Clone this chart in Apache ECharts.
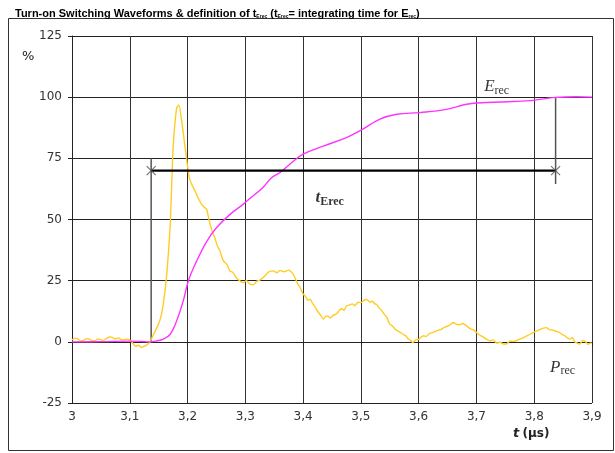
<!DOCTYPE html>
<html>
<head>
<meta charset="utf-8">
<script src="https://cdn.jsdelivr.net/npm/echarts@6/dist/echarts.min.js"></script>
<style>
  html, body { margin: 0; padding: 0; background: #fff; }
  #chart { width: 615px; height: 453px; }
</style>
</head>
<body>
<div id="chart"></div>
<script>
// time axis ticks (µs) and % ticks
const xTicks = [3, 3.1, 3.2, 3.3, 3.4, 3.5, 3.6, 3.7, 3.8, 3.9]
const yTicks = [-25, 0, 25, 50, 75, 100, 125]

// P_rec (yellow)
const pTime = [
  3.000, 3.005, 3.010, 3.015, 3.020, 3.025, 3.030, 3.035, 3.040, 3.045, 3.050, 3.055, 3.060, 3.065, 3.070, 3.075,
  3.080, 3.085, 3.090, 3.095, 3.100, 3.105, 3.110, 3.115, 3.120, 3.125, 3.130, 3.135, 3.140, 3.147, 3.153, 3.158,
  3.164, 3.170, 3.175, 3.181, 3.185, 3.190, 3.196, 3.203, 3.208, 3.213, 3.218, 3.224, 3.229, 3.233, 3.239, 3.243,
  3.247, 3.252, 3.256, 3.262, 3.268, 3.273, 3.278, 3.282, 3.286, 3.290, 3.296, 3.302, 3.308, 3.314, 3.320, 3.325,
  3.331, 3.336, 3.340, 3.348, 3.355, 3.360, 3.367, 3.375, 3.383, 3.390, 3.395, 3.400, 3.404, 3.408, 3.412, 3.417,
  3.421, 3.425, 3.430, 3.435, 3.439, 3.443, 3.448, 3.452, 3.456, 3.460, 3.464, 3.467, 3.471, 3.475, 3.480, 3.485,
  3.490, 3.495, 3.500, 3.504, 3.508, 3.512, 3.516, 3.520, 3.524, 3.527, 3.531, 3.535, 3.540, 3.545, 3.550, 3.555,
  3.560, 3.566, 3.573, 3.578, 3.582, 3.586, 3.590, 3.595, 3.600, 3.604, 3.608, 3.613, 3.618, 3.624, 3.631, 3.638,
  3.645, 3.652, 3.660, 3.665, 3.670, 3.676, 3.683, 3.690, 3.695, 3.700, 3.705, 3.710, 3.716, 3.723, 3.729, 3.735,
  3.741, 3.747, 3.752, 3.758, 3.765, 3.770, 3.775, 3.781, 3.787, 3.792, 3.798, 3.804, 3.810, 3.816, 3.821, 3.826,
  3.832, 3.838, 3.844, 3.849, 3.853, 3.858, 3.862, 3.866, 3.870, 3.875, 3.879, 3.884, 3.888, 3.893, 3.899
]
const pValue = [
  0.8, 1.5, 1.2, 0.4, 0.6, 1.3, 1.1, 0.5, 0.5, 1.2, 0.9, 0.6, 1.4, 2.0, 1.8, 1.2,
  1.6, 1.0, 0.8, 1.1, 0.7, -0.5, -1.8, -1.4, -2.3, -1.9, -1.2, 0.0, 2.5, 5.8, 9.5, 15.4,
  27.6, 48.0, 79.0, 95.5, 96.8, 90.0, 79.0, 67.0, 64.0, 61.7, 59.0, 56.3, 55.0, 54.2, 48.0, 45.0,
  42.6, 39.0, 37.2, 33.1, 31.7, 29.0, 28.5, 27.0, 25.8, 25.0, 24.2, 25.0, 23.6, 23.3, 24.8, 25.2,
  26.3, 27.5, 28.5, 29.0, 28.3, 29.2, 28.6, 29.3, 27.6, 24.0, 22.0, 19.5, 18.6, 17.0, 17.4, 15.4,
  14.2, 12.5, 11.0, 9.3, 10.4, 10.5, 9.8, 10.9, 11.2, 12.0, 13.2, 13.5, 12.8, 14.7, 15.0, 15.5,
  14.8, 16.2, 16.0, 16.7, 17.3, 17.0, 16.2, 16.6, 15.5, 15.4, 14.0, 13.0, 11.4, 10.0, 7.2, 6.4,
  5.0, 4.2, 3.1, 2.4, 1.2, 0.6, -0.3, 0.8, 1.0, 1.9, 2.5, 2.2, 3.3, 3.8, 4.5, 5.0,
  6.0, 6.6, 7.9, 7.2, 7.0, 7.5, 6.5, 5.3, 4.9, 3.8, 2.9, 2.2, 1.3, 0.4, 0.8, -0.5,
  -0.2, -0.9, -0.9, 0.3, 0.2, 0.6, 1.1, 1.6, 2.4, 3.0, 3.8, 4.4, 5.0, 5.6, 5.8, 5.0,
  4.8, 4.3, 3.8, 2.9, 2.5, 1.5, 1.1, 1.8, 0.0, -0.6, -0.9, 0.6, 0.2, -1.0, -0.3
]

// E_rec (magenta)
const eTime = [
  3.000, 3.050, 3.100, 3.120, 3.135, 3.145, 3.158, 3.170, 3.181, 3.1925, 3.2015, 3.2157, 3.233, 3.250, 3.273,
  3.296, 3.310, 3.330, 3.345, 3.360, 3.377, 3.400, 3.435, 3.475, 3.498, 3.533, 3.562, 3.602, 3.648, 3.683,
  3.718, 3.763, 3.798, 3.837, 3.873, 3.900
]
const eValue = [
  0.0, 0.1, 0.3, 0.2, 0.0, 0.3, 1.1, 3.1, 8.5, 16.7, 25.0, 33.0, 41.0, 46.6, 52.0,
  56.2, 59.0, 63.0, 67.0, 69.2, 72.6, 76.7, 80.0, 83.5, 86.2, 91.0, 93.0, 93.7, 95.0, 97.1,
  97.8, 98.2, 98.7, 99.9, 100.2, 100.0
]

// t_Erec definition: start/end times, reference level, bracket extents
const tErecStart = 3.137
const tErecEnd = 3.837
const refLevel = 70
const startBar = [0, 75]
const endBar = [64.5, 100]

// annotation anchors [t, %]
const labelAt = {
  erec: [3.735, 104.2],
  terec: [3.446, 58.8],
  prec: [3.849, -10.6]
}

const chart = echarts.init(document.getElementById('chart'))

const zip = (a, b) => a.map((v, i) => [v, b[i]])
const subRich = {
  t: { fontSize: 11, fontWeight: 'bold', color: '#000', fontFamily: 'Liberation Sans' },
  s: { fontSize: 5, fontWeight: 'bold', color: '#000', fontFamily: 'Liberation Sans', padding: [6, 0, 0, 0] }
}
const serifRich = {
  big: { fontFamily: 'Liberation Serif', fontStyle: 'italic', fontSize: 17, color: '#000' },
  bigB: { fontFamily: 'Liberation Serif', fontStyle: 'italic', fontWeight: 'bold', fontSize: 17, color: '#000' },
  sub: { fontFamily: 'Liberation Serif', fontSize: 12, color: '#000', padding: [7, 0, 0, 0] },
  subB: { fontFamily: 'Liberation Serif', fontWeight: 'bold', fontSize: 12, color: '#000', padding: [7, 0, 0, 0] }
}

chart.setOption({
  animation: false,
  title: {
    text: '{t|Turn-on Switching Waveforms & definition of t}{s|Erec}{t| (t}{s|Erec}{t|= integrating time for E}{s|rec}{t|)}',
    left: 10,
    top: 3,
    textStyle: { rich: subRich }
  },
  graphic: [
    {
      type: 'rect',
      shape: { x: 8.5, y: 18.5, width: 605, height: 432 },
      style: { fill: 'none', stroke: '#333', lineWidth: 1 },
      silent: true
    },
    {
      type: 'text',
      left: 22,
      top: 50,
      style: { text: '%', font: '13px "DejaVu Sans"', fill: '#222' }
    },
    {
      type: 'text',
      left: 513,
      top: 427,
      style: {
        text: '{i|t} {b|(µs)}',
        rich: {
          i: { fontFamily: 'DejaVu Sans', fontStyle: 'italic', fontWeight: 'bold', fontSize: 13, fill: '#222' },
          b: { fontFamily: 'DejaVu Sans', fontWeight: 'bold', fontSize: 12, fill: '#222' }
        }
      }
    }
  ],
  grid: { left: 72, top: 36, right: 23, bottom: 50 },
  xAxis: {
    type: 'value',
    min: xTicks[0],
    max: xTicks[xTicks.length - 1],
    interval: 0.1,
    axisLine: { lineStyle: { color: '#222', width: 1 } },
    axisTick: { show: true, length: 4, lineStyle: { color: '#222' } },
    axisLabel: {
      color: '#333',
      fontSize: 12,
      fontFamily: 'DejaVu Sans',
      margin: 8,
      formatter: v => String(+v.toFixed(2)).replace('.', ',')
    },
    splitLine: { show: true, lineStyle: { color: '#333', width: 1 } }
  },
  yAxis: {
    type: 'value',
    min: yTicks[0],
    max: yTicks[yTicks.length - 1],
    interval: 25,
    axisLine: { show: true, lineStyle: { color: '#222', width: 1 } },
    axisTick: { show: true, length: 4, lineStyle: { color: '#222' } },
    axisLabel: { color: '#333', fontSize: 12, fontFamily: 'DejaVu Sans', margin: 10 },
    splitLine: { show: true, lineStyle: { color: '#222', width: 1 } }
  },
  series: [
    {
      name: 'P_rec',
      type: 'line',
      data: zip(pTime, pValue),
      showSymbol: false,
      smooth: 0.2,
      lineStyle: { color: '#FFCC22', width: 1.4 },
      z: 4
    },
    {
      name: 'E_rec',
      type: 'line',
      data: zip(eTime, eValue),
      showSymbol: false,
      smooth: 0.4,
      lineStyle: { color: '#FF33FF', width: 1.4 },
      z: 5
    },
    {
      name: 'startBar',
      type: 'line',
      data: [[tErecStart, startBar[0]], [tErecStart, startBar[1]]],
      showSymbol: false,
      lineStyle: { color: '#555', width: 1.5 },
      z: 3
    },
    {
      name: 'endBar',
      type: 'line',
      data: [[tErecEnd, endBar[0]], [tErecEnd, endBar[1]]],
      showSymbol: false,
      lineStyle: { color: '#555', width: 1.5 },
      z: 3
    },
    {
      name: 'tErec',
      type: 'line',
      data: [[tErecStart, refLevel], [tErecEnd, refLevel]],
      showSymbol: false,
      lineStyle: { color: '#000', width: 2.2 },
      z: 6
    },
    {
      name: 'cross',
      type: 'scatter',
      data: [[tErecStart, refLevel], [tErecEnd, refLevel]],
      symbol: 'path://M0,0L10,10M10,0L0,10',
      symbolSize: 9,
      itemStyle: { color: 'rgba(0,0,0,0)', borderColor: '#555', borderWidth: 1.2 },
      z: 7
    },
    {
      name: 'labels',
      type: 'scatter',
      symbolSize: 0,
      silent: true,
      label: { show: true, position: 'inside', rich: serifRich },
      data: [
        { value: labelAt.erec, label: { formatter: '{big|E}{sub|rec}' } },
        { value: labelAt.terec, label: { formatter: '{bigB|t}{subB|Erec}' } },
        { value: labelAt.prec, label: { formatter: '{big|P}{sub|rec}' } }
      ],
      z: 8
    }
  ]
})
</script>
</body>
</html>
